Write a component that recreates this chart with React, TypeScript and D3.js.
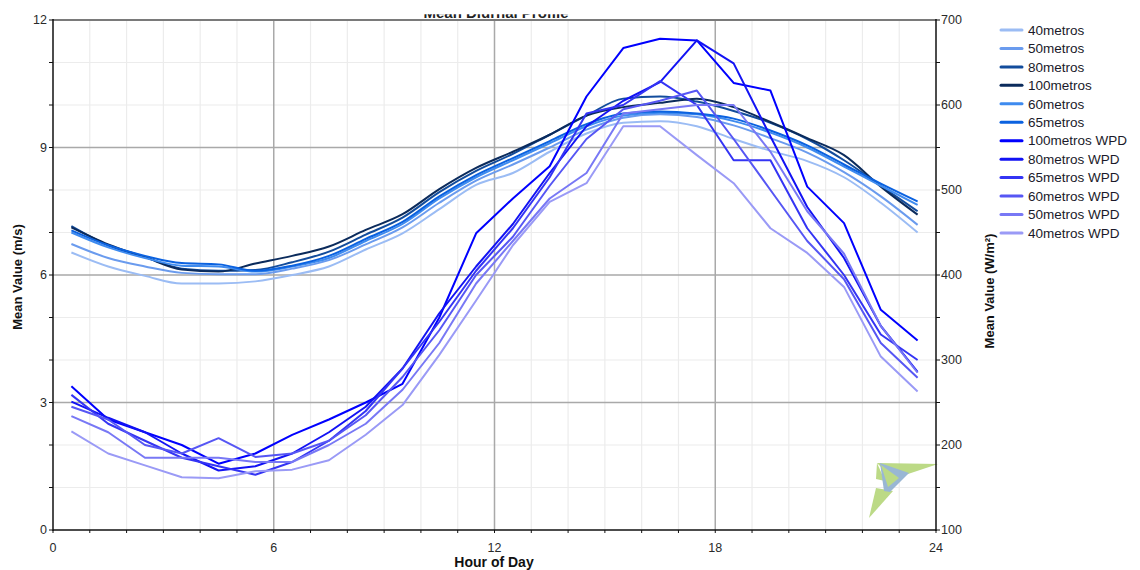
import React from 'react';
import * as d3 from 'd3';

const HOURS = [0.5, 1.5, 2.5, 3.5, 4.5, 5.5, 6.5, 7.5, 8.5, 9.5, 10.5, 11.5, 12.5, 13.5, 14.5, 15.5, 16.5, 17.5, 18.5, 19.5, 20.5, 21.5, 22.5, 23.5];

// Mean wind speed (m/s), left axis
const speed40 = [6.53, 6.2, 5.98, 5.8, 5.8, 5.85, 6.0, 6.2, 6.6, 6.98, 7.55, 8.12, 8.4, 8.9, 9.33, 9.58, 9.62, 9.5, 9.2, 8.92, 8.68, 8.3, 7.7, 7.0];
const speed50 = [6.73, 6.4, 6.2, 6.05, 6.02, 6.02, 6.15, 6.35, 6.72, 7.12, 7.7, 8.22, 8.6, 9.0, 9.42, 9.7, 9.78, 9.72, 9.52, 9.22, 8.88, 8.42, 7.85, 7.18];
const speed80 = [7.15, 6.7, 6.42, 6.15, 6.1, 6.12, 6.3, 6.55, 6.95, 7.35, 7.95, 8.45, 8.85, 9.3, 9.75, 10.15, 10.2, 10.08, 9.86, 9.58, 9.2, 8.7, 8.1, 7.5];
const speed100 = [7.12, 6.72, 6.42, 6.13, 6.08, 6.27, 6.45, 6.67, 7.06, 7.43, 8.02, 8.52, 8.9, 9.3, 9.75, 9.95, 10.05, 10.15, 9.95, 9.6, 9.22, 8.82, 8.08, 7.42];
const speed60 = [7.0, 6.65, 6.4, 6.22, 6.2, 6.08, 6.2, 6.4, 6.8, 7.2, 7.8, 8.3, 8.7, 9.1, 9.5, 9.75, 9.82, 9.78, 9.62, 9.35, 9.0, 8.55, 8.1, 7.65];
const speed65 = [7.05, 6.7, 6.45, 6.28, 6.25, 6.1, 6.22, 6.45, 6.85, 7.25, 7.85, 8.35, 8.75, 9.15, 9.55, 9.8, 9.85, 9.8, 9.68, 9.4, 9.05, 8.6, 8.15, 7.73];

// Mean wind power density (W/m²), right axis
const wpd100 = [269, 230, 215, 200, 178, 190, 212, 230, 250, 272, 350, 449, 490, 528, 610, 667, 678, 676, 626, 617, 504, 461, 359, 323];
const wpd80 = [251, 232, 215, 190, 170, 175, 190, 215, 245, 290, 355, 410, 460, 520, 575, 605, 627, 676, 649, 563, 480, 420, 340, 286];
const wpd65 = [259, 225, 205, 185, 175, 165, 180, 205, 240, 290, 345, 405, 455, 515, 590, 600, 628, 600, 535, 535, 455, 400, 330, 300];
const wpd60 = [245, 230, 200, 190, 208, 186, 190, 205, 235, 280, 335, 400, 445, 505, 560, 595, 605, 617, 560, 500, 440, 395, 320, 279];
const wpd50 = [234, 215, 185, 185, 185, 180, 180, 200, 225, 265, 320, 390, 440, 490, 520, 590, 595, 600, 600, 545, 475, 425, 340, 285];
const wpd40 = [216, 190, 176, 162, 161, 169, 171, 182, 212, 247, 306, 370, 435, 486, 508, 575, 575, 541, 508, 455, 426, 386, 304, 263];

const SERIES_NAMES = ['40metros', '50metros', '80metros', '100metros', '60metros', '65metros', '100metros WPD', '80metros WPD', '65metros WPD', '60metros WPD', '50metros WPD', '40metros WPD'];
const SERIES_VALUES = [speed40, speed50, speed80, speed100, speed60, speed65, wpd100, wpd80, wpd65, wpd60, wpd50, wpd40];
const SERIES_AXIS = ['L', 'L', 'L', 'L', 'L', 'L', 'R', 'R', 'R', 'R', 'R', 'R'];
const SERIES_COLORS = ['#9bbcf4', '#6a9bee', '#124c9c', '#0b2b5c', '#3e8bef', '#0b62e0', '#0000fe', '#1212f4', '#3434f4', '#5656f4', '#7878f5', '#9a9af6'];

const X_TICKS = [0, 6, 12, 18, 24];
const YL_TICKS = [0, 3, 6, 9, 12];
const YR_TICKS = [100, 200, 300, 400, 500, 600, 700];

const TITLE = 'Mean Diurnal Profile';
const X_LABEL = 'Hour of Day';
const YL_LABEL = 'Mean Value (m/s)';
const YR_LABEL = 'Mean Value (W/m²)';

const FONT = '"Liberation Sans", Arial, sans-serif';

export default function App() {
  const W = 1140, H = 570;
  const left = 53, right = 936, top = 20, bottom = 530;
  const x = d3.scaleLinear().domain([0, 24]).range([left, right]);
  const yL = d3.scaleLinear().domain([0, 12]).range([bottom, top]);
  const yR = d3.scaleLinear().domain([100, 700]).range([bottom, top]);

  const minorX = d3.range(0, 25, 1).filter((h) => h % 6 !== 0);
  const minorY = d3.range(0, 13, 1).filter((v) => v % 3 !== 0);
  const majorX = [6, 12, 18];
  const majorY = [3, 6, 9];

  const lines = SERIES_VALUES.map((vals, i) => {
    const ys = SERIES_AXIS[i] === 'L' ? yL : yR;
    const gen = d3.line<number>()
      .x((_, j) => x(HOURS[j]))
      .y((d) => ys(d))
      .curve(SERIES_AXIS[i] === 'L' ? d3.curveMonotoneX : d3.curveLinear);
    return gen(vals) || '';
  });

  const legendX = 1001, legendY0 = 30, legendStep = 18.45;

  return (
    <div style={{ position: 'fixed', left: 0, top: 0 }}>
      <svg width={W} height={H} style={{ display: 'block', background: '#fff' }} fontFamily={FONT}>
        <defs>
          <clipPath id="titleClip">
            <rect x={300} y={14.2} width={400} height={4.5} />
          </clipPath>
          <clipPath id="plotClip">
            <rect x={left} y={top} width={right - left} height={bottom - top} />
          </clipPath>
        </defs>
        <rect x={0} y={0} width={W} height={H} fill="#fff" />
        <text x={496} y={18} textAnchor="middle" fontSize={15} fontWeight="bold" fill="#222" clipPath="url(#titleClip)">{TITLE}</text>

        {/* minor grid */}
        {minorX.map((h) => (
          <line key={'mx' + h} x1={x(h)} x2={x(h)} y1={top} y2={bottom} stroke="#ececec" strokeWidth={1.2} />
        ))}
        {minorY.map((v) => (
          <line key={'my' + v} x1={left} x2={right} y1={yL(v)} y2={yL(v)} stroke="#ececec" strokeWidth={1.2} />
        ))}
        {/* major grid */}
        {majorX.map((h) => (
          <line key={'Mx' + h} x1={x(h)} x2={x(h)} y1={top} y2={bottom} stroke="#a9a9a9" strokeWidth={1.5} />
        ))}
        {majorY.map((v) => (
          <line key={'My' + v} x1={left} x2={right} y1={yL(v)} y2={yL(v)} stroke="#a9a9a9" strokeWidth={1.5} />
        ))}
        <line x1={left} x2={right} y1={top} y2={top} stroke="#7a7a7a" strokeWidth={2} />

        {/* logo */}
        <g opacity={0.9}>
          <polygon points="877,463 938,464 902,476 884,470" fill="#b5d67a" />
          <polygon points="877,463 876,479 885,481" fill="#b5d67a" />
          <polygon points="876,488 869,518 893,491" fill="#b5d67a" />
          <polygon points="880,463 909,473 890,492 884,491" fill="#8fb0d0" />
          <polygon points="881,465 899,478 888,487" fill="#b5d67a" />
        </g>

        {/* series */}
        <g clipPath="url(#plotClip)">
          {lines.map((d, i) => (
            <path key={SERIES_NAMES[i]} d={d} fill="none" stroke={SERIES_COLORS[i]} strokeWidth={2} strokeLinejoin="round" />
          ))}
        </g>

        {/* axes */}
        <line x1={left} x2={left} y1={top - 1} y2={bottom + 1} stroke="#111" strokeWidth={1.5} />
        <line x1={right} x2={right} y1={top - 1} y2={bottom + 1} stroke="#111" strokeWidth={1.5} />
        <line x1={left} x2={right} y1={bottom} y2={bottom} stroke="#111" strokeWidth={1.5} />

        {d3.range(0, 13, 1).map((v) => (
          <line key={'lt' + v} x1={left - 4} x2={left} y1={yL(v)} y2={yL(v)} stroke="#111" strokeWidth={1} />
        ))}
        {YL_TICKS.map((v) => (
          <text key={'ll' + v} x={left - 6} y={yL(v)} dy="0.35em" textAnchor="end" fontSize={12.5} fill="#2a2a2a">{v}</text>
        ))}
        {d3.range(100, 701, 50).map((v) => (
          <line key={'rt' + v} x1={right} x2={right + 4} y1={yR(v)} y2={yR(v)} stroke="#111" strokeWidth={1} />
        ))}
        {YR_TICKS.map((v) => (
          <text key={'rl' + v} x={right + 5} y={yR(v)} dy="0.35em" textAnchor="start" fontSize={12.5} fill="#2a2a2a">{v}</text>
        ))}
        {d3.range(0, 25, 1).map((h) => (
          <line key={'bt' + h} x1={x(h)} x2={x(h)} y1={bottom} y2={bottom + 3} stroke="#111" strokeWidth={1} />
        ))}
        {X_TICKS.map((h) => (
          <text key={'bl' + h} x={x(h)} y={bottom + 22} textAnchor="middle" fontSize={12.5} fill="#2a2a2a">{h}</text>
        ))}

        <text x={494} y={567} textAnchor="middle" fontSize={14} fontWeight="bold" fill="#111">{X_LABEL}</text>
        <text transform="translate(22,277) rotate(-90)" textAnchor="middle" fontSize={13} fontWeight="bold" fill="#111">{YL_LABEL}</text>
        <text transform="translate(994,291) rotate(-90)" textAnchor="middle" fontSize={13} fontWeight="bold" fill="#111">{YR_LABEL}</text>

        {/* legend */}
        {SERIES_NAMES.map((name, i) => {
          const ly = legendY0 + i * legendStep;
          return (
            <g key={'lg' + name}>
              <line x1={legendX} x2={legendX + 21} y1={ly} y2={ly} stroke={SERIES_COLORS[i]} strokeWidth={3} strokeLinecap="round" />
              <text x={legendX + 27} y={ly} dy="0.35em" fontSize={13.5} fill="#1a1a2a">{name}</text>
            </g>
          );
        })}
      </svg>
    </div>
  );
}
